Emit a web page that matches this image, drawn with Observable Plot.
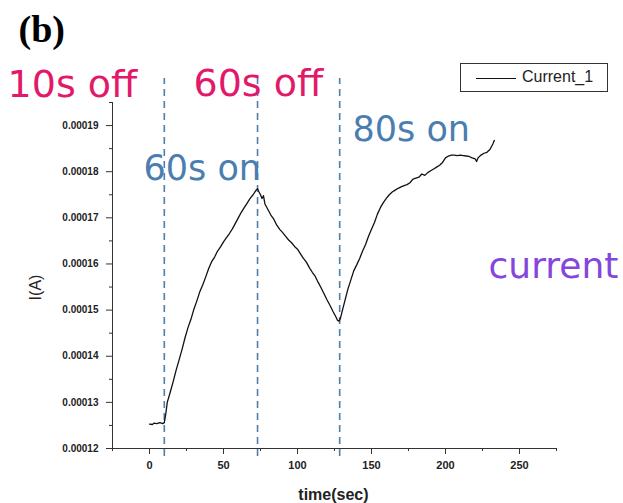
<!DOCTYPE html>
<html><head><meta charset="utf-8">
<script src="https://cdn.jsdelivr.net/npm/d3@7"></script>
<script src="https://cdn.jsdelivr.net/npm/@observablehq/plot@0.6"></script>
<style>
html,body{margin:0;padding:0;background:#fff;}
#wrap{position:relative;width:623px;height:503px;overflow:hidden;background:#fff;}
#wrap svg{position:absolute;left:0;top:0;}
#legend{position:absolute;left:460px;top:63px;width:146px;height:27px;border:1px solid #333;background:#fff;font-family:"Liberation Sans",Arial,sans-serif;font-size:16px;color:#222;z-index:2;}
#legend .ln{position:absolute;left:15px;top:14px;width:40px;border-top:1px solid #111;}
#legend .tx{position:absolute;left:61px;top:4px;line-height:18px;}
</style></head>
<body>
<div id="wrap"><div id="legend"><span class="ln"></span><span class="tx">Current_1</span></div></div>
<script>
// time (s)
const time = [0,2,3,5,7,9,10,11,12,14,16,18,20,22,24,26,28,30,32,34,36,38,40,42,44,46,48,50,52,54,56,58,60,62,64,66,68,70,72,73,74,75,76,77,78,80,82,84,86,88,90,92,94,96,98,100,102,104,106,108,110,112,114,116,118,120,122,124,126,127,128,129,130,132,134,136,138,140,142,144,146,148,150,152,154,156,158,160,162,164,166,168,170,172,174,176,178,180,182,184,186,188,190,192,194,196,198,200,202,204,206,208,210,212,214,216,218,220,221,222,224,226,228,230,232,233];
// current I (A)
const current = [1.253e-4,1.252e-4,1.255e-4,1.254e-4,1.256e-4,1.254e-4,1.256e-4,1.275e-4,1.300e-4,1.322e-4,1.345e-4,1.370e-4,1.392e-4,1.415e-4,1.440e-4,1.462e-4,1.480e-4,1.502e-4,1.520e-4,1.540e-4,1.555e-4,1.572e-4,1.590e-4,1.605e-4,1.615e-4,1.628e-4,1.637e-4,1.648e-4,1.657e-4,1.666e-4,1.676e-4,1.688e-4,1.700e-4,1.712e-4,1.722e-4,1.732e-4,1.742e-4,1.750e-4,1.760e-4,1.763e-4,1.756e-4,1.750e-4,1.742e-4,1.748e-4,1.730e-4,1.718e-4,1.706e-4,1.697e-4,1.684e-4,1.675e-4,1.668e-4,1.660e-4,1.652e-4,1.646e-4,1.638e-4,1.632e-4,1.622e-4,1.612e-4,1.604e-4,1.592e-4,1.582e-4,1.573e-4,1.560e-4,1.548e-4,1.535e-4,1.522e-4,1.510e-4,1.497e-4,1.485e-4,1.478e-4,1.476e-4,1.482e-4,1.495e-4,1.520e-4,1.545e-4,1.565e-4,1.585e-4,1.598e-4,1.612e-4,1.628e-4,1.642e-4,1.660e-4,1.675e-4,1.690e-4,1.708e-4,1.722e-4,1.733e-4,1.742e-4,1.750e-4,1.756e-4,1.760e-4,1.764e-4,1.767e-4,1.770e-4,1.772e-4,1.776e-4,1.784e-4,1.786e-4,1.788e-4,1.795e-4,1.792e-4,1.798e-4,1.802e-4,1.806e-4,1.810e-4,1.814e-4,1.820e-4,1.830e-4,1.834e-4,1.836e-4,1.836e-4,1.835e-4,1.836e-4,1.835e-4,1.834e-4,1.833e-4,1.830e-4,1.828e-4,1.822e-4,1.830e-4,1.836e-4,1.840e-4,1.842e-4,1.848e-4,1.860e-4,1.868e-4];
// switching instants (s)
const switchTimes = [10, 73, 128.5];
// axis ticks
const xTicks = [0, 50, 100, 150, 200, 250];
const xMinorTicks = [-25, 25, 75, 125, 175, 225, 275];
const yTicks = [0.00012, 0.00013, 0.00014, 0.00015, 0.00016, 0.00017, 0.00018, 0.00019];
const yMinorTicks = [0.000125, 0.000135, 0.000145, 0.000155, 0.000165, 0.000175, 0.000185, 0.000195];

const data = time.map((t, i) => ({t, v: current[i]}));

// annotation placement (data coordinates) and styling
const pink = "#e2196a", blue = "#4a7db0", purple = "#8446dc";
const ann = (label, t, v, color, size) => Plot.text([label], {
  x: () => t, y: () => v, text: d => d, fill: color, fontSize: size,
  fontFamily: "DejaVu Sans, sans-serif", textAnchor: "start", lineAnchor: "bottom", ariaLabel: "annotation"
});
const textWidths = {"10s off": 128, "60s off": 134, "60s on": 116, "80s on": 116, "current": 130};

const plot = Plot.plot({
  width: 623, height: 503,
  marginLeft: 112, marginRight: 67, marginTop: 102, marginBottom: 55,
  x: {domain: [-25, 275]},
  y: {domain: [0.00012, 0.000195]},
  style: {fontFamily: "Liberation Sans, Arial, sans-serif", background: "transparent", color: "#222", overflow: "visible"},
  marks: [
    Plot.ruleX(switchTimes, {y1: () => 0.00011827, y2: () => 0.00020021, stroke: "#4f7eaa", strokeWidth: 1.6, strokeDasharray: "7,5"}),
    Plot.axisX({ticks: xTicks, tickSize: 6, tickPadding: 7, fontSize: 11, fontWeight: "bold", label: null, tickFormat: d => String(d), stroke: "#333"}),
    Plot.axisX({ticks: xMinorTicks, tickSize: 3, tickFormat: () => "", label: null, stroke: "#333"}),
    Plot.axisY({ticks: yTicks, tickSize: 6, tickPadding: 8, fontSize: 10, fontWeight: "bold", label: null, tickFormat: d3.format(".5f"), stroke: "#333"}),
    Plot.axisY({ticks: yMinorTicks, tickSize: 3, tickFormat: () => "", label: null, stroke: "#333"}),
    Plot.ruleX([-25], {stroke: "#333"}),
    Plot.ruleY([0.00012], {stroke: "#333"}),
    Plot.line(data, {x: "t", y: "v", stroke: "#111", strokeWidth: 1.3}),
    ann("10s off", -95.9, 1.9609e-4, pink, 38),
    ann("60s off", 29.7, 1.9631e-4, pink, 38),
    ann("60s on", -4.05, 1.7810e-4, blue, 35),
    ann("80s on", 137.2, 1.8655e-4, blue, 35),
    ann("current", 229.1, 1.5685e-4, purple, 36),
    Plot.text(["(b)"], {x: () => -88.5, y: () => 2.0801e-4, text: d => d, fontSize: 38, fontWeight: "bold", fontFamily: "Liberation Serif, Times New Roman, serif", textAnchor: "start", lineAnchor: "bottom", fill: "#000"}),
    Plot.text(["time(sec)"], {x: () => 124.3, y: () => 1.0894e-4, text: d => d, fontSize: 16, fontWeight: "bold", textAnchor: "middle", lineAnchor: "bottom", fill: "#222"}),
    Plot.text(["I(A)"], {x: () => -77, y: () => 1.549e-4, text: d => d, fontSize: 16, rotate: -90, textAnchor: "middle", lineAnchor: "middle", fill: "#222"})
  ]
});

d3.select(plot).selectAll('g[aria-label="annotation"] text').each(function() {
  const w = textWidths[this.textContent];
  if (w) { this.setAttribute("textLength", w); this.setAttribute("lengthAdjust", "spacingAndGlyphs"); }
});

const wrap = document.getElementById("wrap");
wrap.insertBefore(plot, document.getElementById("legend"));
</script>
</body></html>
